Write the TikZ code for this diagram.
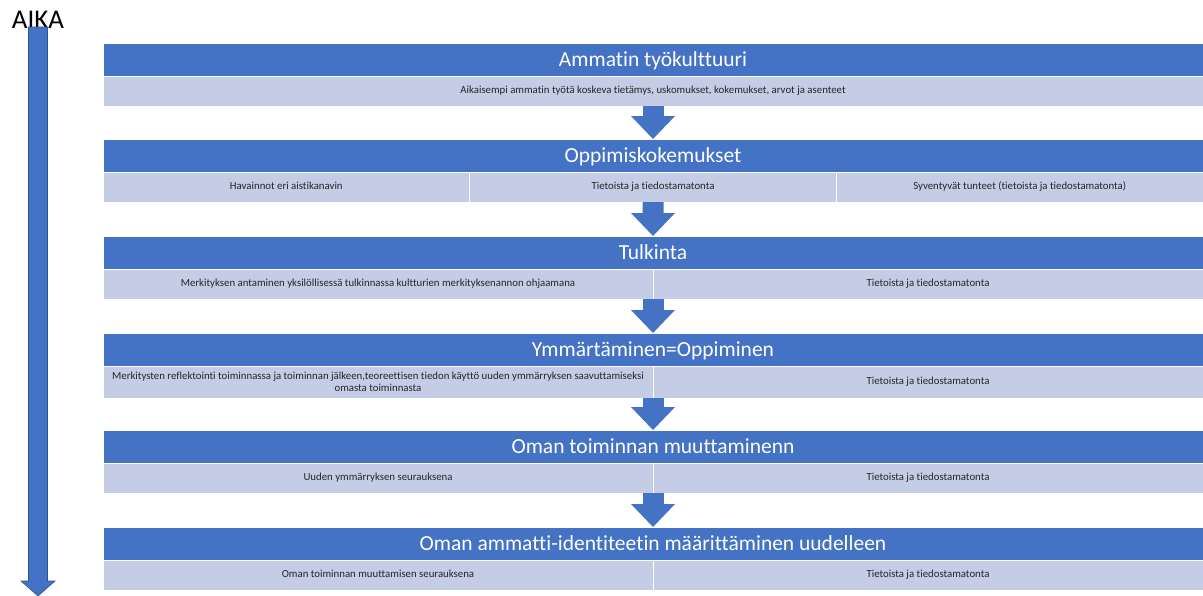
\documentclass[tikz,border=0pt]{standalone}
\usepackage{fontspec}
\setmainfont{Carlito}[Ligatures=NoCommon]
\usetikzlibrary{positioning,arrows.meta}
\definecolor{hdrblue}{HTML}{4472C4}
\definecolor{cellblue}{RGB}{196,204,230}
\definecolor{edgeblue}{HTML}{2F528F}
\tikzset{
	hdr/.style={rectangle, fill=hdrblue, draw=white, line width=0.4pt, outer sep=0pt, minimum width=1100pt, minimum height=33pt, inner sep=0pt, text=white, text height=15.5pt, text depth=2pt, font=\fontsize{21.5}{23}\selectfont},
	cell/.style={rectangle, fill=cellblue, draw=white, line width=0.8pt, outer sep=0pt, minimum height=30pt, inner sep=0pt, text=black!85, text height=1.5ex, text depth=0.45ex, align=center, font=\fontsize{10.8}{12}\selectfont},
	flow/.style={hdrblue, line width=21pt, -{Triangle[width=44pt, length=23pt, line width=0pt]}}
}
\begin{document}
\begin{tikzpicture}[x=1pt, y=-1pt]
	\useasboundingbox (0, 0) rectangle (1203, 595);
	\node[font=\fontsize{27}{29}\selectfont] at (38, 20) (aika) {AIKA};
	\filldraw[fill=hdrblue, draw=edgeblue, line width=0.6pt] (28.5, 27) -- (47.5, 27) -- (47.5, 581) -- (55, 581) -- (38, 596) -- (21, 581) -- (28.5, 581) -- cycle;
	\node[hdr] at (653, 59.5) (h1) {Ammatin työkulttuuri};
	\node[cell, minimum width=1100pt, below=0pt of h1] (s1) {Aikaisempi ammatin työtä koskeva tietämys, uskomukset, kokemukset, arvot ja asenteet};
	\node[hdr] at (653, 155.5) (h2) {Oppimiskokemukset};
	\node[cell, minimum width=366.67pt, anchor=north west] at (h2.south west) (s2a) {Havainnot eri aistikanavin};
	\node[cell, minimum width=366.67pt, right=0pt of s2a] (s2b) {Tietoista ja tiedostamatonta};
	\node[cell, minimum width=366.67pt, right=0pt of s2b] (s2c) {Syventyvät tunteet (tietoista ja tiedostamatonta)};
	\node[hdr] at (653, 252.5) (h3) {Tulkinta};
	\node[cell, minimum width=550pt, anchor=north west] at (h3.south west) (s3a) {Merkityksen antaminen yksilöllisessä tulkinnassa kultturien merkityksenannon ohjaamana};
	\node[cell, minimum width=550pt, right=0pt of s3a] (s3b) {Tietoista ja tiedostamatonta};
	\node[hdr] at (653, 349.5) (h4) {Ymmärtäminen=Oppiminen};
	\node[cell, minimum width=550pt, minimum height=32pt, text height={}, text depth={}, anchor=north west] at (h4.south west) (s4a) {Merkitysten reflektointi toiminnassa ja toiminnan jälkeen,teoreettisen tiedon käyttö uuden ymmärryksen saavuttamiseksi\\omasta toiminnasta};
	\node[cell, minimum width=550pt, minimum height=32pt, right=0pt of s4a] (s4b) {Tietoista ja tiedostamatonta};
	\node[hdr] at (653, 446.5) (h5) {Oman toiminnan muuttaminenn};
	\node[cell, minimum width=550pt, anchor=north west] at (h5.south west) (s5a) {Uuden ymmärryksen seurauksena};
	\node[cell, minimum width=550pt, right=0pt of s5a] (s5b) {Tietoista ja tiedostamatonta};
	\node[hdr] at (653, 543.5) (h6) {Oman ammatti-identiteetin määrittäminen uudelleen};
	\node[cell, minimum width=550pt, anchor=north west] at (h6.south west) (s6a) {Oman toiminnan muuttamisen seurauksena};
	\node[cell, minimum width=550pt, right=0pt of s6a] (s6b) {Tietoista ja tiedostamatonta};
	\draw[flow] (s1.south) -- (h2.north);
	\draw[flow] (s2b.south) -- (h3.north);
	\draw[flow] (s3a.south east) -- (h4.north);
	\draw[flow] (s4a.south east) -- (h5.north);
	\draw[flow] (s5a.south east) -- (h6.north);
\end{tikzpicture}
\end{document}
